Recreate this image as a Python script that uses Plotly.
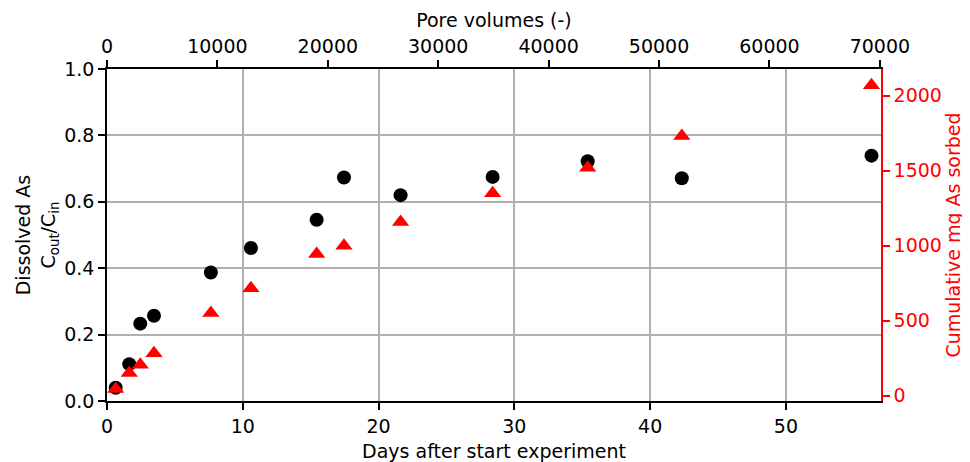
import plotly.graph_objects as go

# Data
days = [0.64, 1.64, 2.45, 3.46, 7.65, 10.6, 15.44, 17.45, 21.62, 28.4, 35.4, 42.33, 56.3]
c_ratio = [0.040, 0.111, 0.233, 0.257, 0.387, 0.461, 0.546, 0.673, 0.620, 0.675, 0.722, 0.671, 0.739]
cum_sorbed = [45, 151, 207, 284, 551, 716, 945, 1000, 1158, 1349, 1520, 1731, 2069]

x_ticks = [0, 10, 20, 30, 40, 50]
pv_ticks = [0, 10000, 20000, 30000, 40000, 50000, 60000, 70000]
y_ticks = [0.0, 0.2, 0.4, 0.6, 0.8, 1.0]
y2_ticks = [0, 500, 1000, 1500, 2000]

FONT = "DejaVu Sans"
FS = 19
RED = "#ff0000"
GRID = "#b0b0b0"

fig = go.Figure()
fig.add_trace(go.Scatter(
    x=days, y=c_ratio, mode="markers", xaxis="x", yaxis="y",
    marker=dict(symbol="circle", size=14, color="black"), showlegend=False,
))
fig.add_trace(go.Scatter(
    x=days, y=cum_sorbed, mode="markers", xaxis="x", yaxis="y2",
    marker=dict(symbol="triangle-up", size=15, color=RED), showlegend=False,
))
# invisible carrier trace so the pore-volume axis is drawn
fig.add_trace(go.Scatter(
    x=pv_ticks, y=[None] * len(pv_ticks), mode="markers", xaxis="x2", yaxis="y",
    marker=dict(opacity=0), showlegend=False, hoverinfo="skip",
))

axis_common = dict(
    showline=True, linewidth=1.5, ticks="outside", ticklen=7, tickwidth=1.5,
    tickfont=dict(family=FONT, size=FS, color="black"), zeroline=False,
    automargin=False,
)

# the page body adds an 8px offset, so the figure is 8px smaller than the window
fig.update_layout(
    width=962, height=454,
    margin=dict(l=99, r=89, t=61, b=61),
    paper_bgcolor="white", plot_bgcolor="white",
    font=dict(family=FONT, size=FS, color="black"),
    xaxis=dict(
        **axis_common, linecolor="black", tickcolor="black",
        range=[0, 57], tickvals=x_ticks,
        showgrid=True, gridcolor=GRID, gridwidth=1.5,
        title=dict(text="Days after start experiment", font=dict(family=FONT, size=FS), standoff=9),
    ),
    xaxis2=dict(
        **axis_common, linecolor="black", tickcolor="black",
        overlaying="x", side="top", anchor="y",
        range=[0, 70100], tickvals=pv_ticks, tickformat="d", showgrid=False,
        title=dict(text="Pore volumes (-)", font=dict(family=FONT, size=FS), standoff=2),
    ),
    yaxis=dict(
        **axis_common, linecolor="black", tickcolor="black",
        range=[0, 1.0], tickvals=y_ticks, tickformat=".1f",
        showgrid=True, gridcolor=GRID, gridwidth=1.5,
        title=dict(text="Dissolved As<br>C<sub>out</sub>/C<sub>in</sub>",
                   font=dict(family=FONT, size=FS), standoff=4),
    ),
    yaxis2=dict(
        showline=True, linewidth=1.5, ticks="outside", ticklen=7, tickwidth=1.5,
        zeroline=False, overlaying="y", side="right", anchor="x", automargin=False,
        linecolor=RED, tickcolor=RED,
        tickfont=dict(family=FONT, size=FS, color=RED),
        range=[-35, 2178], tickvals=y2_ticks, showgrid=False,
        title=dict(text="Cumulative mg As sorbed", font=dict(family=FONT, size=FS, color=RED), standoff=6),
    ),
)

fig.write_html("out.html")
